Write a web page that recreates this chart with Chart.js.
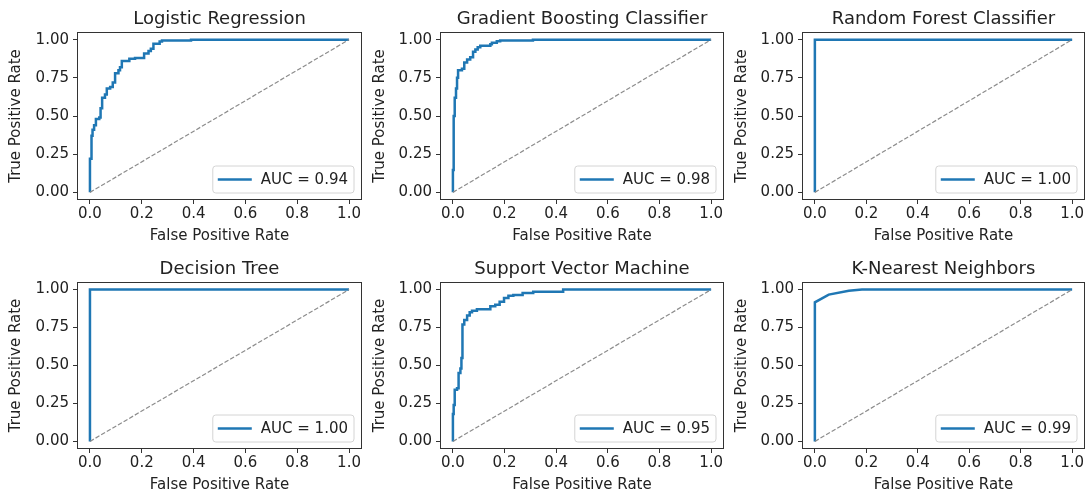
<!DOCTYPE html>
<html><head><meta charset="utf-8">
<script src="https://cdn.jsdelivr.net/npm/chart.js@4.4.0/dist/chart.umd.min.js"></script>
<style>
html,body{margin:0;padding:0;background:#fff;overflow:hidden;width:1086px;height:494px;}
canvas{position:absolute;}
</style></head><body>
<canvas id="k0" width="366" height="250" style="left:0px;top:0px"></canvas>
<canvas id="k1" width="362" height="250" style="left:366px;top:0px"></canvas>
<canvas id="k2" width="358" height="250" style="left:728px;top:0px"></canvas>
<canvas id="k3" width="366" height="244" style="left:0px;top:250px"></canvas>
<canvas id="k4" width="362" height="244" style="left:366px;top:250px"></canvas>
<canvas id="k5" width="358" height="244" style="left:728px;top:250px"></canvas>
<script>
// ---- data ----
const titles = ['Logistic Regression','Gradient Boosting Classifier','Random Forest Classifier','Decision Tree','Support Vector Machine','K-Nearest Neighbors'];
const aucValues = [0.94, 0.98, 1.00, 1.00, 0.95, 0.99];
const xTickVals = [0, 0.2, 0.4, 0.6, 0.8, 1.0];
const yTickVals = [0, 0.25, 0.5, 0.75, 1.0];
const diagX = [0, 1];
const diagY = [0, 1];

const lrFpr = [0, 0, 0.006, 0.010, 0.016, 0.023, 0.036, 0.041, 0.047, 0.058, 0.065, 0.078, 0.088, 0.097, 0.110, 0.116, 0.123, 0.136, 0.152, 0.174, 0.200, 0.209, 0.226, 0.235, 0.245, 0.269, 0.278, 0.39, 1.0];
const lrTpr = [0, 0.22, 0.37, 0.41, 0.44, 0.48, 0.49, 0.55, 0.62, 0.64, 0.68, 0.69, 0.72, 0.78, 0.80, 0.82, 0.86, 0.86, 0.875, 0.88, 0.88, 0.91, 0.925, 0.94, 0.973, 0.987, 0.995, 1.0, 1.0];

const gbFpr = [0, 0, 0.003, 0.007, 0.012, 0.016, 0.020, 0.035, 0.044, 0.055, 0.067, 0.078, 0.087, 0.096, 0.106, 0.145, 0.151, 0.170, 0.183, 0.31, 1.0];
const gbTpr = [0, 0.147, 0.50, 0.62, 0.68, 0.75, 0.80, 0.81, 0.85, 0.87, 0.885, 0.92, 0.935, 0.95, 0.96, 0.969, 0.98, 0.99, 0.995, 1.0, 1.0];

const rfFpr = [0, 0, 1];
const rfTpr = [0, 1, 1];

const dtFpr = [0, 0, 1];
const dtTpr = [0, 1, 1];

const svmFpr = [0, 0, 0.003, 0.007, 0.016, 0.022, 0.029, 0.033, 0.037, 0.044, 0.055, 0.065, 0.074, 0.093, 0.145, 0.164, 0.181, 0.198, 0.215, 0.234, 0.270, 0.311, 0.427, 1.0];
const svmTpr = [0, 0.18, 0.24, 0.34, 0.35, 0.45, 0.48, 0.55, 0.77, 0.80, 0.83, 0.85, 0.86, 0.87, 0.89, 0.90, 0.92, 0.945, 0.96, 0.965, 0.978, 0.985, 1.0, 1.0];

const knnFpr = [0, 0, 0.054, 0.132, 0.183, 1.0];
const knnTpr = [0, 0.916, 0.967, 0.993, 1.0, 1.0];

const fprs = [lrFpr, gbFpr, rfFpr, dtFpr, svmFpr, knnFpr];
const tprs = [lrTpr, gbTpr, rfTpr, dtTpr, svmTpr, knnTpr];
const steppedFlags = [true, true, false, false, true, false];

// ---- drawing ----
const FONT = '"DejaVu Sans", sans-serif';
const TXT = '#222';

const framePlugin = {
  id: 'frame',
  afterDatasetsDraw(chart) {
    const {ctx, chartArea: a} = chart;
    ctx.save();
    ctx.strokeStyle = '#333';
    ctx.lineWidth = 1;
    ctx.strokeRect(Math.round(a.left) + 0.5, Math.round(a.top) + 0.5, Math.round(a.right - a.left) - 1, Math.round(a.bottom - a.top) - 1);
    ctx.restore();
  }
};

const axTitlePlugin = {
  id: 'axTitle',
  afterDraw(chart, args, opts) {
    const {ctx, chartArea: a} = chart;
    ctx.save();
    ctx.font = '18px ' + FONT;
    ctx.fillStyle = TXT;
    ctx.textAlign = 'center';
    ctx.textBaseline = 'alphabetic';
    ctx.fillText(opts.text, (a.left + a.right) / 2, a.top - 8);
    ctx.restore();
  }
};

const aucLegendPlugin = {
  id: 'aucLegend',
  afterDraw(chart, args, opts) {
    const {ctx, chartArea: a} = chart;
    ctx.save();
    ctx.font = '15px ' + FONT;
    const txt = opts.text;
    const w = ctx.measureText(txt).width;
    const h = 27;
    const right = a.right - 8, bottom = a.bottom - 7;
    const left = right - (5 + 34 + 9 + w + 6);
    const top = bottom - h;
    ctx.beginPath();
    ctx.roundRect(left, top, right - left, h, 3);
    ctx.fillStyle = 'rgba(255,255,255,0.85)';
    ctx.fill();
    ctx.strokeStyle = '#d4d4d4';
    ctx.lineWidth = 1;
    ctx.stroke();
    ctx.beginPath();
    ctx.moveTo(left + 5, top + h / 2);
    ctx.lineTo(left + 39, top + h / 2);
    ctx.strokeStyle = '#1f77b4';
    ctx.lineWidth = 2.5;
    ctx.stroke();
    ctx.fillStyle = TXT;
    ctx.textBaseline = 'middle';
    ctx.textAlign = 'left';
    ctx.fillText(txt, left + 48, top + h / 2 + 1);
    ctx.restore();
  }
};

function makeChart(i) {
  const col = i % 3, row = Math.floor(i / 3);
  const yW = col === 0 ? 77 : 74;
  const padR = col === 2 ? 1 : 4;
  const xH = row === 0 ? 50 : 45;
  const xTitlePadBottom = row === 0 ? 5 : 0;
  const yTitlePadTop = col === 0 ? 7 : 5;
  const pts = fprs[i].map((x, k) => ({x: x, y: tprs[i][k]}));
  const diag = diagX.map((x, k) => ({x: x, y: diagY[k]}));
  new Chart(document.getElementById('k' + i), {
    type: 'scatter',
    data: {
      datasets: [
        {label: 'diag', data: diag, showLine: true, borderColor: '#8c8c8c', borderWidth: 1.2, borderDash: [4.5, 2], pointRadius: 0},
        {label: 'AUC', data: pts, showLine: true, stepped: steppedFlags[i], borderColor: '#1f77b4', borderWidth: 2.5, pointRadius: 0, borderJoinStyle: 'miter'}
      ]
    },
    options: {
      responsive: false,
      animation: false,
      layout: {padding: {left: 0, right: padR, top: 32, bottom: 0}},
      plugins: {
        legend: {display: false},
        tooltip: {enabled: false},
        title: {display: false},
        axTitle: {text: titles[i]},
        aucLegend: {text: 'AUC = ' + aucValues[i].toFixed(2)}
      },
      scales: {
        x: {
          type: 'linear', min: -0.05, max: 1.05,
          afterBuildTicks(s) { s.ticks = xTickVals.map(v => ({value: v})); },
          afterFit(s) { s.height = xH; s.paddingLeft = 0; s.paddingRight = 0; },
          ticks: {callback: v => Number(v).toFixed(1), font: {family: FONT, size: 15}, color: TXT, padding: 1, maxRotation: 0, autoSkip: false},
          grid: {display: true, drawOnChartArea: false, drawTicks: true, tickLength: 4, color: '#333', lineWidth: 1},
          border: {display: false},
          title: {display: true, text: 'False Positive Rate', font: {family: FONT, size: 15}, color: TXT, padding: {top: 0, bottom: xTitlePadBottom}}
        },
        y: {
          type: 'linear', min: -0.05, max: 1.05,
          afterBuildTicks(s) { s.ticks = yTickVals.map(v => ({value: v})); },
          afterFit(s) { s.width = yW; s.paddingTop = 0; s.paddingBottom = 0; },
          ticks: {callback: v => Number(v).toFixed(2), font: {family: FONT, size: 15}, color: TXT, padding: 4, autoSkip: false},
          grid: {display: true, drawOnChartArea: false, drawTicks: true, tickLength: 4, color: '#333', lineWidth: 1},
          border: {display: false},
          title: {display: true, text: 'True Positive Rate', font: {family: FONT, size: 15}, color: TXT, padding: {top: yTitlePadTop, bottom: 0}}
        }
      }
    },
    plugins: [framePlugin, axTitlePlugin, aucLegendPlugin]
  });
}
for (let i = 0; i < 6; i++) makeChart(i);
</script>
</body></html>
